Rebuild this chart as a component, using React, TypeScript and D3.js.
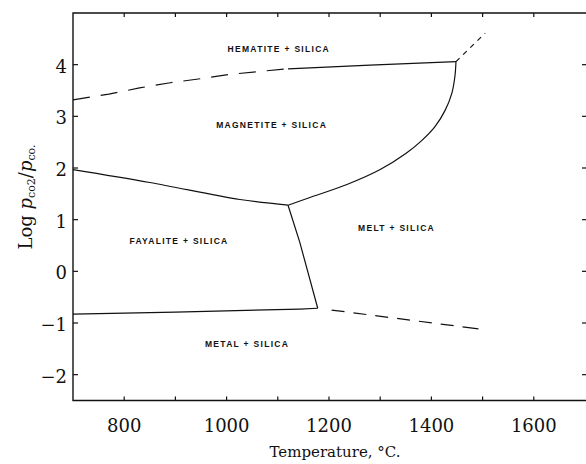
import React from "react";
import * as d3 from "d3";

const width = 586;
const height = 464;

// axis ticks
const xTicks = [800, 900, 1000, 1100, 1200, 1300, 1400, 1500, 1600];
const xTickLabels = [800, 1000, 1200, 1400, 1600];
const yTicks = [-2, -1, 0, 1, 2, 3, 4];

// phase boundaries as [temperature °C, log pCO2/pCO]
const hematiteDashed: [number, number][] = [
  [700, 3.32], [770, 3.43], [830, 3.55], [890, 3.65], [950, 3.73], [1005, 3.81], [1065, 3.87], [1120, 3.92],
];
const hematiteSolid: [number, number][] = [[1120, 3.92], [1280, 3.99], [1448, 4.06]];
const hematiteExtension: [number, number][] = [[1448, 4.06], [1505, 4.61]];
const magnetiteMelt: [number, number][] = [
  [1448, 4.06], [1446, 3.78], [1440, 3.45], [1427, 3.12], [1407, 2.8], [1381, 2.53],
  [1350, 2.28], [1300, 1.97], [1235, 1.68], [1160, 1.42], [1120, 1.28],
];
const fayaliteMagnetite: [number, number][] = [[700, 1.97], [850, 1.72], [1026, 1.39], [1120, 1.28]];
const fayaliteMelt: [number, number][] = [[1120, 1.28], [1143, 0.56], [1178, -0.715]];
const fayaliteMetal: [number, number][] = [[700, -0.83], [900, -0.79], [1143, -0.73], [1178, -0.715]];
const meltMetal: [number, number][] = [[1178, -0.715], [1528, -1.16]];

// phase field labels
const fieldNames = ["HEMATITE + SILICA", "MAGNETITE + SILICA", "FAYALITE + SILICA", "MELT + SILICA", "METAL + SILICA"];
const fieldT = [1102, 1088, 907, 1332, 1040];
const fieldLogP = [4.31, 2.83, 0.59, 0.84, -1.415];

const serif = "'DejaVu Serif', serif";

export default function App() {
  const x = d3.scaleLinear().domain([700, 1700]).range([73, 585]);
  const y = d3.scaleLinear().domain([-2.5, 5]).range([400.5, 13]);
  const left = x(700);
  const top = y(5);
  const bottom = y(-2.5);

  const line = d3
    .line<[number, number]>()
    .x((d) => x(d[0]))
    .y((d) => y(d[1]));
  const smooth = d3
    .line<[number, number]>()
    .x((d) => x(d[0]))
    .y((d) => y(d[1]))
    .curve(d3.curveCatmullRom.alpha(0.5));

  const stroke = { fill: "none", stroke: "#111", strokeWidth: 1.2 };

  return (
    <svg
      width={width}
      height={height}
      style={{ position: "absolute", left: 0, top: 0, background: "#fff" }}
    >
      {/* frame */}
      <path d={`M${width},${top}H${left}V${bottom}H${width}`} fill="none" stroke="#111" strokeWidth={1.4} />

      {/* ticks */}
      {xTicks.map((t) => (
        <g key={"xt" + t}>
          <line x1={x(t)} x2={x(t)} y1={bottom} y2={bottom - 4} stroke="#111" strokeWidth={1.2} />
          <line x1={x(t)} x2={x(t)} y1={top} y2={top + 4} stroke="#111" strokeWidth={1.2} />
        </g>
      ))}
      {yTicks.map((t) => (
        <g key={"yt" + t}>
          <line x1={left} x2={left + 5} y1={y(t)} y2={y(t)} stroke="#111" strokeWidth={1.2} />
          <line x1={width} x2={width - 4} y1={y(t)} y2={y(t)} stroke="#111" strokeWidth={1.2} />
          <text
            x={left - 6}
            y={y(t) + 8}
            textAnchor="end"
            fontFamily={serif}
            fontSize={18}
            fill="#111"
          >
            {t < 0 ? "\u2212" + Math.abs(t) : String(t)}
          </text>
        </g>
      ))}
      {xTickLabels.map((t) => (
        <text key={"xl" + t} x={x(t)} y={432} textAnchor="middle" fontFamily={serif} fontSize={18} fill="#111">
          {t}
        </text>
      ))}

      {/* axis titles */}
      <text x={335} y={457} textAnchor="middle" fontFamily={serif} fontSize={15} fill="#111">
        Temperature, °C.
      </text>
      <text
        transform="translate(32, 197) rotate(-90)"
        textAnchor="middle"
        fontFamily={serif}
        fontSize={18}
        fill="#111"
      >
        Log <tspan fontStyle="italic">p</tspan>
        <tspan fontSize={11} dy={3}>co2</tspan>
        <tspan dy={-3}>/</tspan>
        <tspan fontStyle="italic">p</tspan>
        <tspan fontSize={11} dy={3}>co.</tspan>
      </text>

      {/* phase boundaries */}
      <path d={line(hematiteDashed) || ""} {...stroke} strokeDasharray="17,11" />
      <path d={line(hematiteSolid) || ""} {...stroke} />
      <path d={line(hematiteExtension) || ""} {...stroke} strokeDasharray="5,5" />
      <path d={smooth(magnetiteMelt) || ""} {...stroke} />
      <path d={smooth(fayaliteMagnetite) || ""} {...stroke} />
      <path d={line(fayaliteMelt) || ""} {...stroke} />
      <path d={line(fayaliteMetal) || ""} {...stroke} />
      <path d={line(meltMetal) || ""} {...stroke} strokeDasharray="0,14,13,9,13,9,13,9,13,9,13,9,13,9,16,40" />

      {/* field labels */}
      {fieldNames.map((name, i) => (
        <text
          key={name}
          x={x(fieldT[i])}
          y={y(fieldLogP[i])}
          dy="0.35em"
          textAnchor="middle"
          fontFamily="'Liberation Sans', Arial, sans-serif"
          fontWeight="bold"
          fontSize={8.5}
          letterSpacing={1.3}
          fill="#111"
        >
          {name}
        </text>
      ))}
    </svg>
  );
}
